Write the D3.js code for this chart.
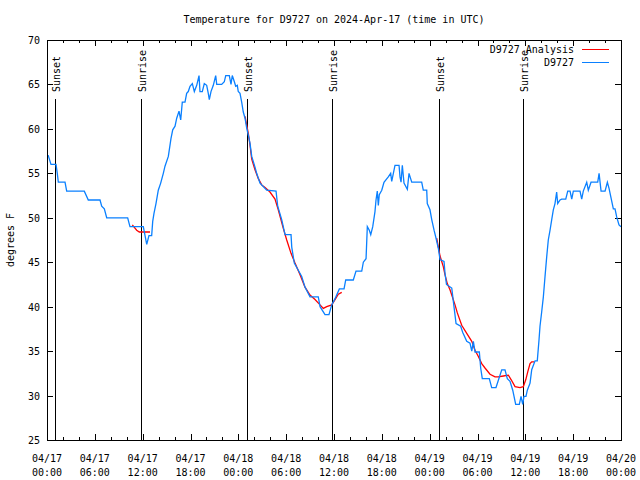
<!DOCTYPE html>
<html>
<head>
<meta charset="utf-8">
<script src="https://cdn.jsdelivr.net/npm/d3@7"></script>
<style>
html,body{margin:0;padding:0;background:#fff;}
svg text{font-family:"DejaVu Sans Mono","Liberation Mono",monospace;font-size:10px;fill:#000;}
</style>
</head>
<body>
<svg id="chart" width="640" height="480"></svg>
<script>
// ---- data (hours since 2024-04-17 00:00 UTC, temperature in degrees F) ----
const titleText = "Temperature for D9727 on 2024-Apr-17 (time in UTC)";
const yLabelText = "degrees F";
const seriesNames = ["D9727 Analysis", "D9727"];

const obsHours = [0.00,0.16,0.50,1.13,1.29,1.42,2.26,2.47,4.68,5.18,6.65,6.86,7.19,7.49,10.12,10.29,10.41,12.08,12.51,12.79,13.13,13.26,13.42,13.67,13.96,14.26,14.59,14.80,15.22,15.55,15.77,16.06,16.27,16.56,16.77,16.97,17.31,17.52,17.72,17.94,18.23,18.48,18.78,19.07,19.19,19.48,19.73,20.03,20.23,20.36,20.57,20.86,21.16,21.29,21.91,22.24,22.42,22.87,23.08,23.24,23.50,23.67,23.87,23.99,24.21,24.42,24.62,24.84,25.05,25.25,25.46,25.68,26.09,26.30,26.72,27.56,28.73,28.94,29.44,29.86,30.61,30.70,31.02,31.52,31.95,32.36,32.99,34.03,34.25,34.87,35.37,35.71,36.13,36.67,37.26,37.47,38.42,38.76,39.48,39.68,40.02,40.18,40.43,40.61,40.86,41.14,41.27,41.43,41.56,41.68,41.99,42.27,42.81,43.11,43.24,43.65,44.16,44.28,44.41,44.57,44.78,45.20,45.41,45.75,47.00,47.20,47.63,47.70,48.04,48.26,48.55,48.80,49.08,49.30,49.80,49.92,50.11,50.77,50.97,51.31,51.89,52.15,52.65,53.06,53.28,53.48,53.69,54.23,54.40,54.60,55.48,55.78,56.32,57.04,57.45,57.74,58.08,58.42,58.79,59.25,59.46,59.67,59.83,60.08,60.25,60.59,60.80,61.22,61.50,61.72,61.84,62.05,62.26,62.47,62.68,62.88,63.10,63.31,63.51,63.72,63.93,64.06,64.35,64.56,65.07,65.32,65.61,65.82,66.02,66.86,67.07,67.27,67.70,67.90,68.24,69.08,69.25,69.50,70.00,70.29,70.50,70.71,71.04,71.25,71.46,71.75,72.00];
const obsTemps = [57.0,57.0,56.0,56.0,55.0,54.0,54.0,53.0,53.0,52.0,52.0,51.3,51.0,50.0,50.0,49.4,49.0,49.0,47.0,48.0,48.0,49.6,50.5,51.6,53.1,53.9,55.0,55.8,56.9,58.9,59.9,60.3,61.2,62.0,61.0,63.0,63.0,64.0,64.2,64.8,65.1,64.2,64.9,66.0,64.2,64.2,65.1,64.9,64.0,63.3,64.2,64.9,66.0,65.0,65.0,65.3,66.0,66.0,65.0,66.0,65.3,64.8,64.9,64.2,64.0,63.0,61.9,61.2,60.1,59.3,58.4,56.9,55.7,55.0,53.9,53.1,53.0,51.3,49.8,48.1,48.1,46.7,44.9,44.1,43.4,42.2,41.1,41.1,40.0,39.1,39.1,40.2,40.9,42.0,42.0,43.0,43.0,44.0,44.0,45.0,45.4,49.0,48.6,48.1,49.0,50.7,52.0,53.0,51.4,52.6,53.1,54.0,54.6,55.0,54.1,55.9,55.9,54.6,54.0,55.9,53.9,53.2,55.0,54.0,54.0,53.1,53.1,51.6,50.9,49.8,48.6,47.7,46.6,45.3,45.1,43.8,42.5,42.1,40.6,38.1,37.8,37.1,36.1,35.9,35.0,36.1,34.9,34.9,33.1,31.9,31.9,30.9,30.9,32.9,32.9,31.9,31.6,30.6,29.0,29.0,29.9,29.0,29.9,29.9,30.6,31.4,32.9,33.9,33.9,36.3,37.8,39.4,41.1,43.4,45.6,47.5,48.6,49.8,50.9,51.6,52.9,51.6,52.0,52.1,52.1,53.0,53.0,52.1,53.0,53.0,52.1,53.0,54.0,53.1,54.0,54.0,55.0,53.0,53.0,54.0,53.3,52.4,51.0,51.0,50.1,49.2,49.0];

// analysis series: three separate runs around sunrise/sunset
const anaRunA_hours = [10.70,11.25,11.58,12.92];
const anaRunA_temps = [49.2,48.6,48.4,48.4];
const anaRunB_hours = [24.84,25.25,25.46,25.68,26.09,26.51,26.93,27.35,27.97,28.60,29.01,29.64,30.07,30.61,31.11,31.74,32.36,32.99,33.62,34.25,34.66,35.09,35.71,36.13,36.54,36.97];
const anaRunB_temps = [61.4,59.5,58.2,56.6,55.4,54.4,53.7,53.4,52.9,52.1,50.9,48.8,47.5,46.0,44.9,43.6,42.2,41.3,40.8,40.2,39.8,40.0,40.2,40.8,41.4,41.6];
const anaRunC_hours = [48.88,49.30,49.71,49.92,50.21,50.55,51.18,51.47,52.02,52.65,53.28,53.69,54.11,54.53,54.94,55.57,56.20,56.61,57.24,57.87,58.21,58.71,59.33,59.75,60.06,60.31,60.59,60.80,61.13];
const anaRunC_temps = [47.7,45.7,44.5,43.6,42.6,41.9,40.2,39.3,37.9,37.0,36.1,35.1,34.4,33.6,33.1,32.4,32.1,32.1,32.2,32.3,31.8,31.0,30.9,31.0,31.8,32.7,33.6,33.8,33.8];

// sun events
const sunLabels = ["Sunset","Sunrise","Sunset","Sunrise","Sunset","Sunrise"];
const sunHours  = [1.05,11.83,25.12,35.80,49.20,59.77];

// axes
const yDomain = [25,70];
const yTicks = [25,30,35,40,45,50,55,60,65,70];
const xDomain = [0,72];
const xMajorTicks = [0,6,12,18,24,30,36,42,48,54,60,66,72];
const xTickDates = ["04/17","04/17","04/17","04/17","04/18","04/18","04/18","04/18","04/19","04/19","04/19","04/19","04/20"];
const xTickTimes = ["00:00","06:00","12:00","18:00","00:00","06:00","12:00","18:00","00:00","06:00","12:00","18:00","00:00"];
const xMinorTicks = d3.range(0,73,2).filter(h => h % 6 !== 0);

const colors = {analysis:"#ff0000", obs:"#0a80ff"};

// ---- layout ----
const L = 47, R = 621, T = 40, B = 440;
const svg = d3.select("#chart");
const x = d3.scaleLinear().domain(xDomain).range([L,R]);
const y = d3.scaleLinear().domain(yDomain).range([B,T]);

// ticks (inward, mirrored)
const gAx = svg.append("g").attr("shape-rendering","crispEdges");
function addAxis(axis, transform){
  const g = gAx.append("g").attr("transform",transform).call(axis);
  g.select(".domain").remove();
  g.selectAll("line").attr("stroke","#000");
  g.selectAll("text").remove();
}
addAxis(d3.axisBottom(x).tickValues(xMajorTicks).tickSize(-6), `translate(0,${B})`);
addAxis(d3.axisBottom(x).tickValues(xMinorTicks).tickSize(-3), `translate(0,${B})`);
addAxis(d3.axisTop(x).tickValues(xMajorTicks).tickSize(-6), `translate(0,${T})`);
addAxis(d3.axisTop(x).tickValues(xMinorTicks).tickSize(-3), `translate(0,${T})`);
addAxis(d3.axisLeft(y).tickValues(yTicks).tickSize(-6), `translate(${L},0)`);
addAxis(d3.axisRight(y).tickValues(yTicks).tickSize(-6), `translate(${R},0)`);

// y tick labels
svg.append("g").selectAll("text").data(yTicks).join("text")
  .attr("x", L-7).attr("y", d => y(d)+4).attr("text-anchor","end").text(d => d);

// x tick labels (two lines)
const xl = svg.append("g").selectAll("text").data(xMajorTicks).join("text")
  .attr("text-anchor","middle");
xl.append("tspan").attr("x", d => x(d)).attr("y", 462).text((d,i) => xTickDates[i]);
xl.append("tspan").attr("x", d => x(d)).attr("y", 476).text((d,i) => xTickTimes[i]);

// title & y label
svg.append("text").attr("x", (L+R)/2).attr("y", 23).attr("text-anchor","middle").text(titleText);
svg.append("text").attr("transform", `translate(14,${(T+B)/2}) rotate(-90)`)
  .attr("text-anchor","middle").text(yLabelText);

// sun event lines + labels
const sun = svg.append("g");
sun.selectAll("line").data(sunHours).join("line")
  .attr("x1", d => Math.round(x(d))+0.5).attr("x2", d => Math.round(x(d))+0.5)
  .attr("y1", 99).attr("y2", B).attr("stroke","#000").attr("stroke-width",1);
sun.selectAll("text").data(sunHours).join("text")
  .attr("transform", d => `translate(${Math.round(x(d))+5},92) rotate(-90)`)
  .attr("text-anchor","start").text((d,i) => sunLabels[i]);

// series lines
const line = d3.line().x(d => x(d[0])).y(d => y(d[1]));
const runs = [[anaRunA_hours,anaRunA_temps],[anaRunB_hours,anaRunB_temps],[anaRunC_hours,anaRunC_temps]];
runs.forEach(([h,t]) => {
  svg.append("path").datum(h.map((v,i)=>[v,t[i]]))
    .attr("d", line).attr("fill","none").attr("stroke",colors.analysis).attr("stroke-width",1.3);
});
svg.append("path").datum(obsHours.map((v,i)=>[v,obsTemps[i]]))
  .attr("d", line).attr("fill","none").attr("stroke",colors.obs).attr("stroke-width",1.3);

// frame
svg.append("rect").attr("x",L+0.5).attr("y",T+0.5).attr("width",R-L).attr("height",B-T)
  .attr("fill","none").attr("stroke","#000").attr("stroke-width",1);

// legend
const leg = svg.append("g");
const legItems = [{name:seriesNames[0], color:colors.analysis, y:49},{name:seriesNames[1], color:colors.obs, y:62}];
legItems.forEach(it => {
  leg.append("text").attr("x",574).attr("y",it.y+4).attr("text-anchor","end").text(it.name);
  leg.append("line").attr("x1",582).attr("x2",609).attr("y1",it.y+0.5).attr("y2",it.y+0.5)
    .attr("stroke",it.color).attr("stroke-width",1);
});
</script>
</body>
</html>
